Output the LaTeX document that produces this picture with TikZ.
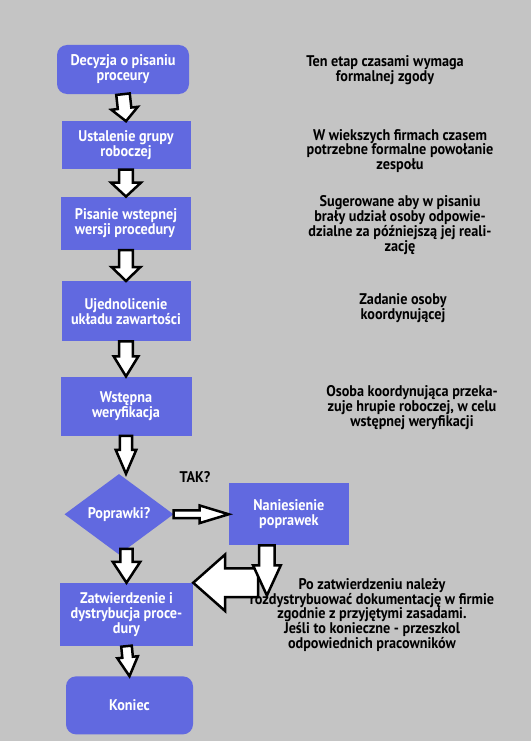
\documentclass[tikz,border=0pt]{standalone}
\usepackage{fontspec}
\setmainfont{PT Sans}[FakeStretch=0.92]
\usetikzlibrary{positioning,shapes.geometric,calc}

\definecolor{tlo}{HTML}{C4C4C4}
\definecolor{niebieski}{HTML}{6169E0}
\def\arrsw{6.8bp}\def\arrhw{13.3bp}\def\arrhl{13bp}

\begin{document}
\begin{tikzpicture}[x=1bp,y=1bp,
	every node/.style={font=\fontsize{15.5}{15}\selectfont\bfseries},
	proc/.style={rectangle,fill=niebieski,text=white,align=center,minimum width=130bp,inner sep=2bp},
	term/.style={proc,rounded corners=10bp},
	decision/.style={diamond,fill=niebieski,text=white,minimum width=109bp,minimum height=79bp,inner sep=1bp},
	note/.style={align=center,text=black,inner sep=0pt},
	arrshaft/.code={\def\arrsw{#1}},arrhead/.code={\def\arrhw{#1}},arrlen/.code={\def\arrhl{#1}},
	blk/.style={draw=black,line width=2.5bp,fill=white,
		to path={let \p1=($(\tikztotarget)-(\tikztostart)$),\n1={atan2(\y1,\x1)},\n2={veclen(\x1,\y1)} in
			($(\tikztostart)+(\n1+90:\arrsw)$) -- ++(\n1:{\n2-\arrhl}) -- ++(\n1+90:{\arrhw-\arrsw})
			-- (\tikztotarget) -- ($(\tikztotarget)+(\n1+180:\arrhl)+(\n1-90:\arrhw)$)
			-- ++(\n1+90:{\arrhw-\arrsw}) -- ($(\tikztostart)+(\n1-90:\arrsw)$) -- cycle}}]

\fill[tlo] (0,0) rectangle (531,-741);
\useasboundingbox (0,0) rectangle (531,-741);

\node[term,minimum width=132bp,minimum height=49bp] (dec) at (123,-69.5) {Decyzja o pisaniu\\proceury};
 \node[proc,minimum width=129bp,minimum height=48bp,below=27bp of dec,xshift=3bp] (ust) {Ustalenie grupy\\roboczej};
	\node[proc,minimum height=53bp,below=27bp of ust,align=left] (pis) {Pisanie wstepnej\\wersji procedury};
	\node[proc,minimum width=129bp,minimum height=60bp,below=31bp of pis] (uje) {Ujednolicenie\\układu zawartości};
	\node[proc,minimum width=131bp,minimum height=59bp,below=35bp of uje] (wer) {Wstępna\\weryfikacja};
	\node[decision,below=38bp of wer,xshift=-7bp] (pop) {Poprawki?};
	\node[proc,minimum width=120bp,minimum height=62bp,right=55bp of pop] (nan) {Naniesienie\\poprawek};
	\node[proc,minimum width=133bp,minimum height=63bp,below=28bp of pop,xshift=7.5bp] (zat) {Zatwierdzenie i\\dystrybucja proce-\\dury};
	\node[term,minimum width=127bp,minimum height=58bp,below=30bp of zat,xshift=3bp] (kon) {Koniec};

	\node (tak) at (195,-477) {TAK?};

	\node[note] (n1) at (385,-70) {Ten etap czasami wymaga\\formalnej zgody};
	\node[note] (n2) at (400,-151) {W wiekszych firmach czasem\\potrzebne formalne powołanie\\zespołu};
	\node[note] (n3) at (400,-225) {Sugerowane aby w pisaniu\\brały udział osoby odpowie-\\dzialne za późniejszą jej reali-\\zację};
	\node[note] (n4) at (403,-308) {Zadanie osoby\\koordynującej};
	\node[note] (n5) at (412,-408) {Osoba koordynująca przeka-\\zuje hrupie roboczej, w celu\\wstępnej weryfikacji};
	\node[note] (n6) at (372,-615) {Po zatwierdzeniu należy\\rozdystrybuować dokumentację w firmie\\zgodnie z przyjętymi zasadami.\\Jeśli to konieczne - przeszkol\\odpowiednich pracowników};

	\coordinate (nanout) at ([xshift=-22bp]nan.south);
	\coordinate (nanend) at ([yshift=-50bp]nanout);
	\coordinate (bigstart) at ([xshift=65bp]zat.north east);

	\draw[blk] (dec.south) to (ust.north);
	\draw[blk,arrhead=15bp,arrlen=14bp] (ust.south) to (pis.north);
	\draw[blk,arrhead=14.5bp,arrlen=14bp] (pis.south) to (uje.north);
	\draw[blk,arrhead=12.3bp,arrlen=20bp] (uje.south) to (wer.north);
	\draw[blk,arrshaft=6.2bp,arrhead=10.3bp,arrlen=24bp] (wer.south) to (wer.south |- pop.north);
	\draw[blk,arrshaft=3.8bp,arrhead=8.8bp,arrlen=29bp] (pop.east) to (nan.west);
	\draw[blk,arrshaft=6.2bp,arrhead=13.8bp,arrlen=21bp] ([yshift=6bp]zat.north |- pop.south) to (zat.north);
	\draw[blk,arrshaft=5.3bp,arrhead=10.3bp,arrlen=19bp] (zat.south) to (kon.north);
	\draw[blk,arrshaft=14.3bp,arrhead=28.3bp,arrlen=32bp] (bigstart) to (zat.north east);
	\draw[blk,arrshaft=7.8bp,arrhead=13.8bp,arrlen=30bp] (nanout) to (nanend);

\end{tikzpicture}
\end{document}
